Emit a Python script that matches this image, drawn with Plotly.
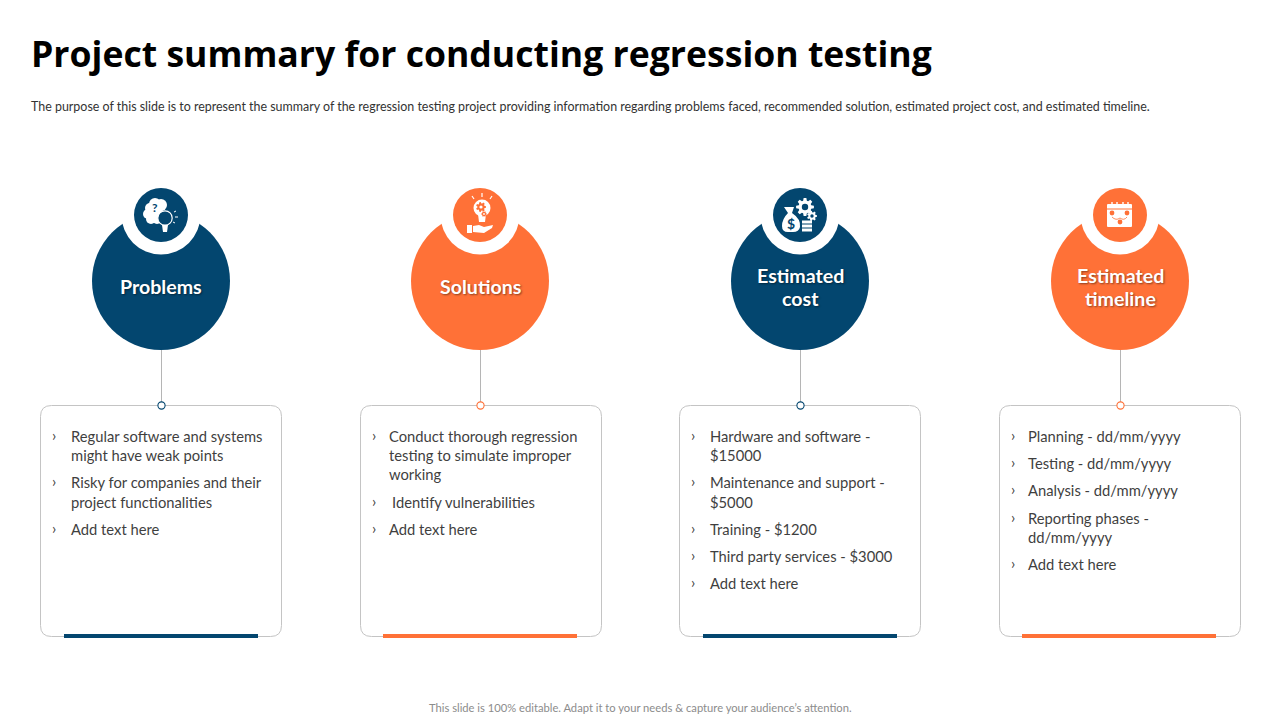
import math
import plotly.graph_objects as go

TITLE = "Project summary for conducting regression testing"
SUBTITLE = ("The purpose of this slide is to represent the summary of the regression testing project providing "
            "information regarding problems faced, recommended solution, estimated project cost, and estimated timeline.")
FOOTER = "This slide is 100% editable. Adapt it to your needs & capture your audience’s attention."

NAVY = "#03466F"
ORANGE = "#FF7137"
GREY = "#C4C4C4"
TEXT = "#3F3F3F"

heads = [["Problems"], ["Solutions"], ["Estimated", "cost"], ["Estimated", "timeline"]]
head_colors = [NAVY, ORANGE, NAVY, ORANGE]
centers = [161, 480, 800, 1120]
cards_left = [40, 360, 679, 999]
bars_left = [64, 383, 703, 1022]

# (bullet?, text, y centre, extra x)
card_lines = [
    [(1, "Regular software and systems", 436, 0), (0, "might have weak points", 455, 0),
     (1, "Risky for companies and their", 482, 0), (0, "project functionalities", 502, 0),
     (1, "Add text here", 529, 0)],
    [(1, "Conduct thorough regression", 436, -2), (0, "testing to simulate improper", 455, -2),
     (0, "working", 474, -2), (1, "Identify vulnerabilities", 502, 1), (1, "Add text here", 529, -2)],
    [(1, "Hardware and software -", 436, 0), (0, "$15000", 455, 0),
     (1, "Maintenance and support -", 482, 0), (0, "$5000", 502, 0),
     (1, "Training - $1200", 529, 0), (1, "Third party services - $3000", 556, 0),
     (1, "Add text here", 583, 0)],
    [(1, "Planning - dd/mm/yyyy", 436, -2), (1, "Testing - dd/mm/yyyy", 463, -2),
     (1, "Analysis - dd/mm/yyyy", 490, -2), (1, "Reporting phases -", 518, -2),
     (0, "dd/mm/yyyy", 537, -2), (1, "Add text here", 564, -2)],
]

shapes, ann = [], []


def circle(cx, cy, r, fill, line=None, lw=1):
    shapes.append(dict(type="circle", x0=cx - r, x1=cx + r, y0=cy - r, y1=cy + r, fillcolor=fill,
                       line=dict(color=line or fill, width=lw if line else 0), layer="above"))


def path(d, fill="rgba(0,0,0,0)", line=None, lw=1):
    shapes.append(dict(type="path", path=d, fillcolor=fill,
                       line=dict(color=line or fill, width=lw if line else 0), layer="above"))


def seg(x0, y0, x1, y1, color, lw=1):
    shapes.append(dict(type="line", x0=x0, y0=y0, x1=x1, y1=y1, line=dict(color=color, width=lw), layer="above"))


def rrect(x0, y0, x1, y1, r):
    return (f"M{x0+r},{y0} L{x1-r},{y0} Q{x1},{y0} {x1},{y0+r} L{x1},{y1-r} Q{x1},{y1} {x1-r},{y1} "
            f"L{x0+r},{y1} Q{x0},{y1} {x0},{y1-r} L{x0},{y0+r} Q{x0},{y0} {x0+r},{y0} Z")


def gear(cx, cy, ro, ri, hole, fill, bg, n=8):
    pts = []
    for i in range(n):
        a = 2 * math.pi * i / n
        w = math.pi / n * 0.55
        for ang, r in ((a - w * 1.35, ri), (a - w * 0.7, ro), (a + w * 0.7, ro), (a + w * 1.35, ri)):
            pts.append(f"{cx + r * math.cos(ang):.2f},{cy + r * math.sin(ang):.2f}")
    path("M" + " L".join(pts) + " Z", fill)
    circle(cx, cy, hole, bg)


def text(x, y, s, size, color, font="Lato", anchor="left", bold=False, shadow=None):
    ann.append(dict(x=x, y=y, text=f"<b>{s}</b>" if bold else s, showarrow=False, xanchor=anchor, yanchor="middle",
                    align=anchor,
                    font=dict(size=size, color=color, family=font, **({"shadow": shadow} if shadow else {}))))


def icon_problem(c, cy):
    fg, bg = "white", NAVY
    for dx, dy, r in ((-11, -7, 5), (-6, -11, 6), (0, -10, 6), (-13, -1, 5), (-10, 4, 5), (-4, 4, 5), (-5, -3, 7)):
        circle(c + dx, cy + dy, r, fg)
    text(c - 6, cy - 8, "<b>?</b>", 12, bg, anchor="center")
    circle(c + 4, cy + 3, 7.2, bg, fg, 1.2)
    path(f"M{c+1},{cy+10} L{c+7},{cy+10} L{c+6},{cy+17} L{c+2},{cy+17} Z", fg)
    for x0, y0, x1, y1 in ((13, -3, 15, -4), (14, 2, 17, 2), (12, 7, 14, 8)):
        seg(c + x0, cy + y0, c + x1, cy + y1, fg, 1)


def icon_solution(c, cy):
    fg, bg = "white", ORANGE
    c = c + 2
    circle(c, cy - 7, 8.5, fg)
    path(f"M{c-4},{cy-1} L{c+4},{cy-1} L{c+3},{cy+7} L{c-3},{cy+7} Z", fg)
    gear(c - 1, cy - 8, 5, 3.6, 1.6, bg, fg, 7)
    gear(c + 2, cy - 1, 2.8, 2, 0.9, bg, fg, 6)
    for x0, y0, x1, y1 in ((0, -22, 0, -18), (-10, -19, -8, -16), (10, -19, 8, -16)):
        seg(c + x0, cy + y0, c + x1, cy + y1, fg, 1.2)
    path(f"M{c-15},{cy+10} L{c-10},{cy+10} L{c-10},{cy+18} L{c-15},{cy+18} Z", fg)
    path(f"M{c-9},{cy+11} L{c-3},{cy+10} L{c+2},{cy+12} L{c+11},{cy+10} L{c+10},{cy+13} L{c+2},{cy+18} L{c-9},{cy+17} Z", fg)


def icon_cost(c, cy):
    fg, bg = "white", NAVY
    gear(c + 5, cy - 8, 9, 6.5, 3.2, fg, bg, 8)
    gear(c + 12, cy + 1, 5, 3.6, 1.7, fg, bg, 7)
    path(f"M{c-16},{cy-8} L{c-6},{cy-8} L{c-8},{cy-2} Q{c+1},{cy+4} {c},{cy+12} Q{c-1},{cy+17} {c-7},{cy+17} "
         f"L{c-12},{cy+17} Q{c-18},{cy+17} {c-18},{cy+11} Q{c-18},{cy+4} {c-12},{cy-2} Z", fg)
    text(c - 9, cy + 8, "<b>$</b>", 14, bg, anchor="center")
    for dy in (7, 11, 15):
        path(f"M{c+2},{cy+dy-1.5} L{c+12},{cy+dy-1.5} L{c+12},{cy+dy+1.5} L{c+2},{cy+dy+1.5} Z", fg)


def icon_time(c, cy):
    fg, bg = "white", ORANGE
    x0, x1, y0, y1 = c - 13, c + 12, cy - 11, cy + 12
    path(rrect(x0, y0, x1, y1, 1), fg)
    for dx in (-8, -3, 3, 8):
        seg(c + dx, cy - 13, c + dx, cy - 9, fg, 1.4)
    seg(x0, cy - 6, x1, cy - 6, bg, 1)
    for dx, dy in ((-8, -2), (7, -2), (0, 7)):
        circle(c + dx, cy + dy, 2.4, bg)
    path(f"M{c-8},{cy+2} Q{c-4},{cy+6} {c},{cy+3} Q{c+4},{cy+6} {c+7},{cy+2}", line=bg, lw=0.8)


icons = [icon_problem, icon_solution, icon_cost, icon_time]

for i, c in enumerate(centers):
    col = head_colors[i]
    # big disc, white ring, small disc
    circle(c, 281, 69, col)
    circle(c, 215, 39.5, "white")
    circle(c, 215, 27, col)
    icons[i](c, 215)
    ys = [286] if len(heads[i]) == 1 else [275, 298]
    for y, s in zip(ys, heads[i]):
        text(c, y, s, 19.6, "white", anchor="center", bold=True, shadow="1px 1px 2px rgba(0,0,0,0.45)")
    # card
    L = cards_left[i]
    path(rrect(L + 0.5, 405.5, L + 241.5, 636.5, 11), "white", GREY, 1)
    seg(c + 0.5, 350, c + 0.5, 402, "#B5B5B5", 1)
    circle(c + 0.5, 405.5, 3.6, "white", col, 1.1)
    B = bars_left[i]
    path(f"M{B},634 L{B+194},634 L{B+194},638 L{B},638 Z", col)
    for bullet, s, y, dx in card_lines[i]:
        if bullet:
            text(L + 10, y - 1.5, "›", 15, TEXT)
        text(L + 29 + dx, y, s, 14.75, TEXT)

text(29, 53, TITLE, 35.6, "black", font="Open Sans", bold=True)
text(29, 106, SUBTITLE, 12.45, "#333333")
text(640, 707, FOOTER, 11.2, "#8C8C8C", anchor="center")

fig = go.Figure()
fig.update_layout(
    width=1280, height=720, margin=dict(l=0, r=0, t=0, b=0), showlegend=False,
    paper_bgcolor="white", plot_bgcolor="white",
    xaxis=dict(range=[0, 1280], visible=False, fixedrange=True),
    yaxis=dict(range=[720, 0], visible=False, fixedrange=True),
    shapes=shapes, annotations=ann,
)
fig.write_html("out.html", config={"displayModeBar": False},
               post_script="document.body.style.margin='0';document.body.style.overflow='hidden';")
